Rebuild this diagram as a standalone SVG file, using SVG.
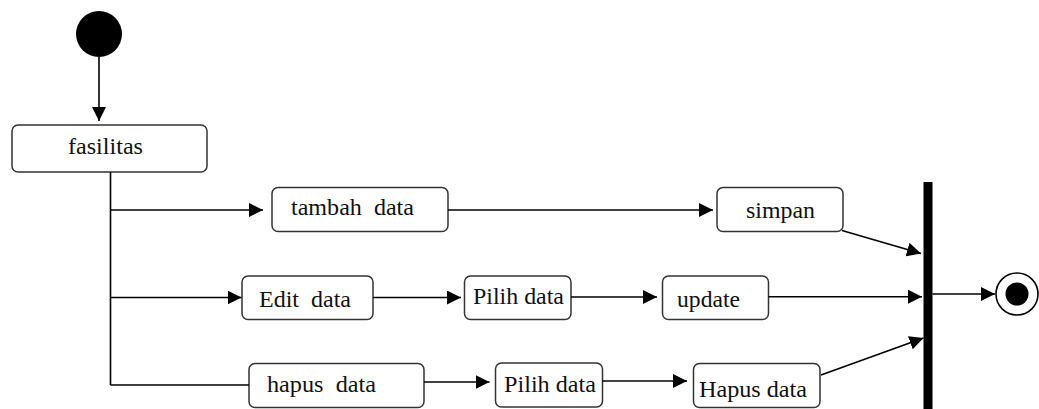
<svg xmlns="http://www.w3.org/2000/svg" width="1039" height="409" viewBox="0 0 1039 409">
  <style>
    .node rect { fill: #ffffff; stroke: #333333; stroke-width: 1.5; }
    .node text { font-family: "Liberation Serif", "Times New Roman", serif; font-size: 23px; fill: #111111; }
    .conn line { stroke: #000000; stroke-width: 1.6; fill: none; }
    .arrow { marker-end: url(#head); }
  </style>
  <defs>
    <marker id="head" markerUnits="userSpaceOnUse" markerWidth="15" markerHeight="15" refX="14" refY="7" orient="auto">
      <path d="M0,0 L14,7 L0,14 Z" fill="#000000"/>
    </marker>
  </defs>

  <g id="start">
    <circle cx="99" cy="34" r="23" fill="#000000"/>
  </g>

  <g id="fasilitas" class="node">
    <rect x="12" y="125" width="195" height="47" rx="6"/>
    <text x="68" y="154" textLength="75" lengthAdjust="spacingAndGlyphs">fasilitas</text>
  </g>

  <g id="tambah-data" class="node">
    <rect x="272" y="187.5" width="176" height="44" rx="6"/>
    <text x="291" y="215" textLength="123" lengthAdjust="spacingAndGlyphs" xml:space="preserve">tambah  data</text>
  </g>

  <g id="simpan" class="node">
    <rect x="717" y="187.5" width="126" height="44" rx="6"/>
    <text x="746" y="218" textLength="69" lengthAdjust="spacingAndGlyphs">simpan</text>
  </g>

  <g id="edit-data" class="node">
    <rect x="242" y="276" width="131" height="43.5" rx="6"/>
    <text x="259" y="306.5" textLength="92" lengthAdjust="spacingAndGlyphs" xml:space="preserve">Edit  data</text>
  </g>

  <g id="pilih-data-1" class="node">
    <rect x="464.5" y="276" width="106.5" height="43.5" rx="6"/>
    <text x="473" y="304" textLength="91" lengthAdjust="spacingAndGlyphs">Pilih data</text>
  </g>

  <g id="update" class="node">
    <rect x="662.5" y="276" width="106" height="43.5" rx="6"/>
    <text x="677" y="306.5" textLength="63" lengthAdjust="spacingAndGlyphs">update</text>
  </g>

  <g id="hapus-data" class="node">
    <rect x="249" y="363.5" width="175" height="44" rx="6"/>
    <text x="267" y="391.5" textLength="109" lengthAdjust="spacingAndGlyphs" xml:space="preserve">hapus  data</text>
  </g>

  <g id="pilih-data-2" class="node">
    <rect x="495.5" y="363" width="107" height="44" rx="6"/>
    <text x="504" y="391.5" textLength="92" lengthAdjust="spacingAndGlyphs">Pilih data</text>
  </g>

  <g id="hapus-data-2" class="node">
    <rect x="693.5" y="363.5" width="126.5" height="44" rx="6"/>
    <text x="699" y="396.5" textLength="108" lengthAdjust="spacingAndGlyphs">Hapus data</text>
  </g>

  <g id="join-bar">
    <rect x="923.5" y="182" width="9" height="227" fill="#000000"/>
  </g>

  <g id="end">
    <circle cx="1017" cy="294" r="21" fill="#ffffff" stroke="#000000" stroke-width="1.6"/>
    <circle cx="1017" cy="294" r="11.5" fill="#000000"/>
  </g>

  <g id="connectors" class="conn">
    <line class="arrow" x1="99" y1="57" x2="99" y2="121"/>
    <line x1="110.5" y1="172" x2="110.5" y2="385"/>
    <line class="arrow" x1="110.5" y1="210" x2="263" y2="210"/>
    <line class="arrow" x1="110.5" y1="297.5" x2="241.5" y2="297.5"/>
    <line x1="110.5" y1="385" x2="249" y2="385"/>
    <line class="arrow" x1="448" y1="210" x2="713" y2="210"/>
    <line class="arrow" x1="373" y1="297.5" x2="461" y2="297.5"/>
    <line class="arrow" x1="571" y1="297" x2="657" y2="297"/>
    <line class="arrow" x1="424" y1="382" x2="489.5" y2="382"/>
    <line class="arrow" x1="602.5" y1="381" x2="687" y2="381"/>
    <line class="arrow" x1="842" y1="230.5" x2="921" y2="253.5"/>
    <line class="arrow" x1="768.5" y1="296.7" x2="922" y2="296.7"/>
    <line class="arrow" x1="821" y1="375" x2="923.5" y2="338"/>
    <line class="arrow" x1="932.5" y1="294" x2="995" y2="294"/>
  </g>
</svg>
